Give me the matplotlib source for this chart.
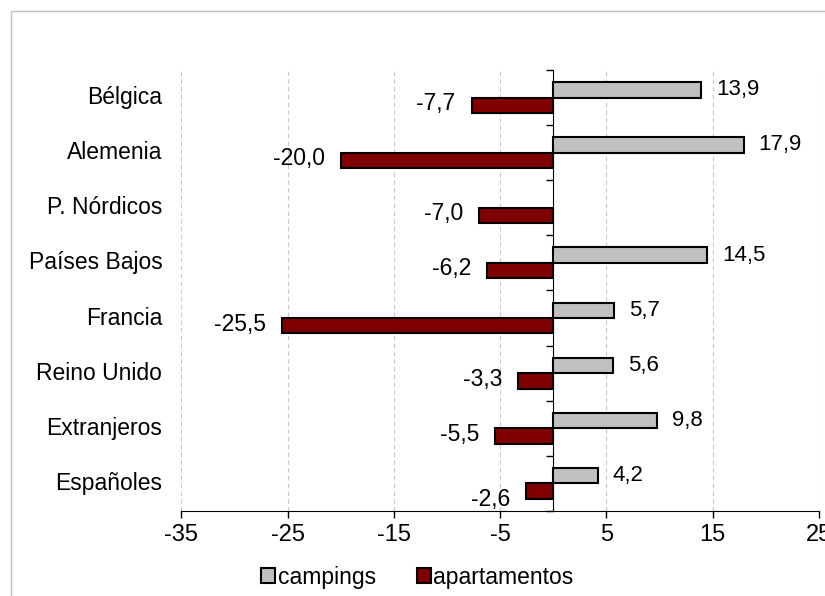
import matplotlib.pyplot as plt
from matplotlib.patches import Rectangle
import numpy as np

plt.rcParams['font.family'] = ['Liberation Sans', 'DejaVu Sans']

paises = ['Bélgica', 'Alemenia', 'P. Nórdicos', 'Países Bajos', 'Francia',
          'Reino Unido', 'Extranjeros', 'Españoles']
campings = [13.9, 17.9, np.nan, 14.5, 5.7, 5.6, 9.8, 4.2]
apartamentos = [-7.7, -20.0, -7.0, -6.2, -25.5, -3.3, -5.5, -2.6]
xticks = [-35, -25, -15, -5, 5, 15, 25]

gris = '#C0C0C0'
granate = '#800000'

fig = plt.figure(figsize=(8.25, 5.96), dpi=100)
ax = fig.add_axes([0.2199, 0.1426, 0.7728, 0.74])

# marco gris de la figura
fig.patches.append(Rectangle((11 / 825, -0.05), 1.2, 1 - 11 / 596 + 0.05,
                             transform=fig.transFigure, fill=False,
                             edgecolor='#BFBFBF', linewidth=1))

y = np.arange(len(paises))
h = 0.28
ax.barh(y - h / 2, campings, height=h, color=gris, edgecolor='black',
        linewidth=1.5, label='campings', zorder=3)
ax.barh(y + h / 2, apartamentos, height=h, color=granate, edgecolor='black',
        linewidth=1.5, label='apartamentos', zorder=3)

# etiquetas de valores
for i, v in enumerate(campings):
    if not np.isnan(v):
        ax.text(v + 1.4, i - h / 2, f'{v:.1f}'.replace('.', ','), ha='left',
                va='center', fontsize=16)
for i, v in enumerate(apartamentos):
    dy = 0.15 if i == len(paises) - 1 else -0.03
    ax.text(v - 1.5, i + h / 2 + dy, f'{v:.1f}'.replace('.', ','), ha='right',
            va='center', fontsize=16.5)

# nombres de categorías a la izquierda del área
for i, p in enumerate(paises):
    ax.text(-0.03, i, p, transform=ax.get_yaxis_transform(), ha='right',
            va='center', fontsize=16.5)

ax.set_xlim(-35, 25)
ax.set_ylim(len(paises) - 0.5, -0.5)
ax.set_xticks(xticks)
ax.set_xticklabels([str(t) for t in xticks], fontsize=17)
ax.tick_params(axis='x', length=5, width=1, pad=4)

ax.spines['left'].set_position(('data', 0))
ax.spines['top'].set_visible(False)
ax.spines['right'].set_visible(False)
ax.set_yticks([])
ax.set_yticks(np.arange(-0.5, len(paises), 1.0), minor=True)
ax.tick_params(axis='y', which='minor', length=5, width=1, direction='out',
               labelleft=False)

ax.grid(axis='x', linestyle=(0, (4, 3)), color='#C8C8C8', linewidth=0.8,
        zorder=0)
ax.set_axisbelow(True)

ax.legend(loc='center', bbox_to_anchor=(0.37, -0.15), ncol=2,
          frameon=False, fontsize=16.5, handlelength=0.6, handleheight=0.6,
          handletextpad=0.1, columnspacing=1.8)

fig.savefig('out.png', dpi=100)
